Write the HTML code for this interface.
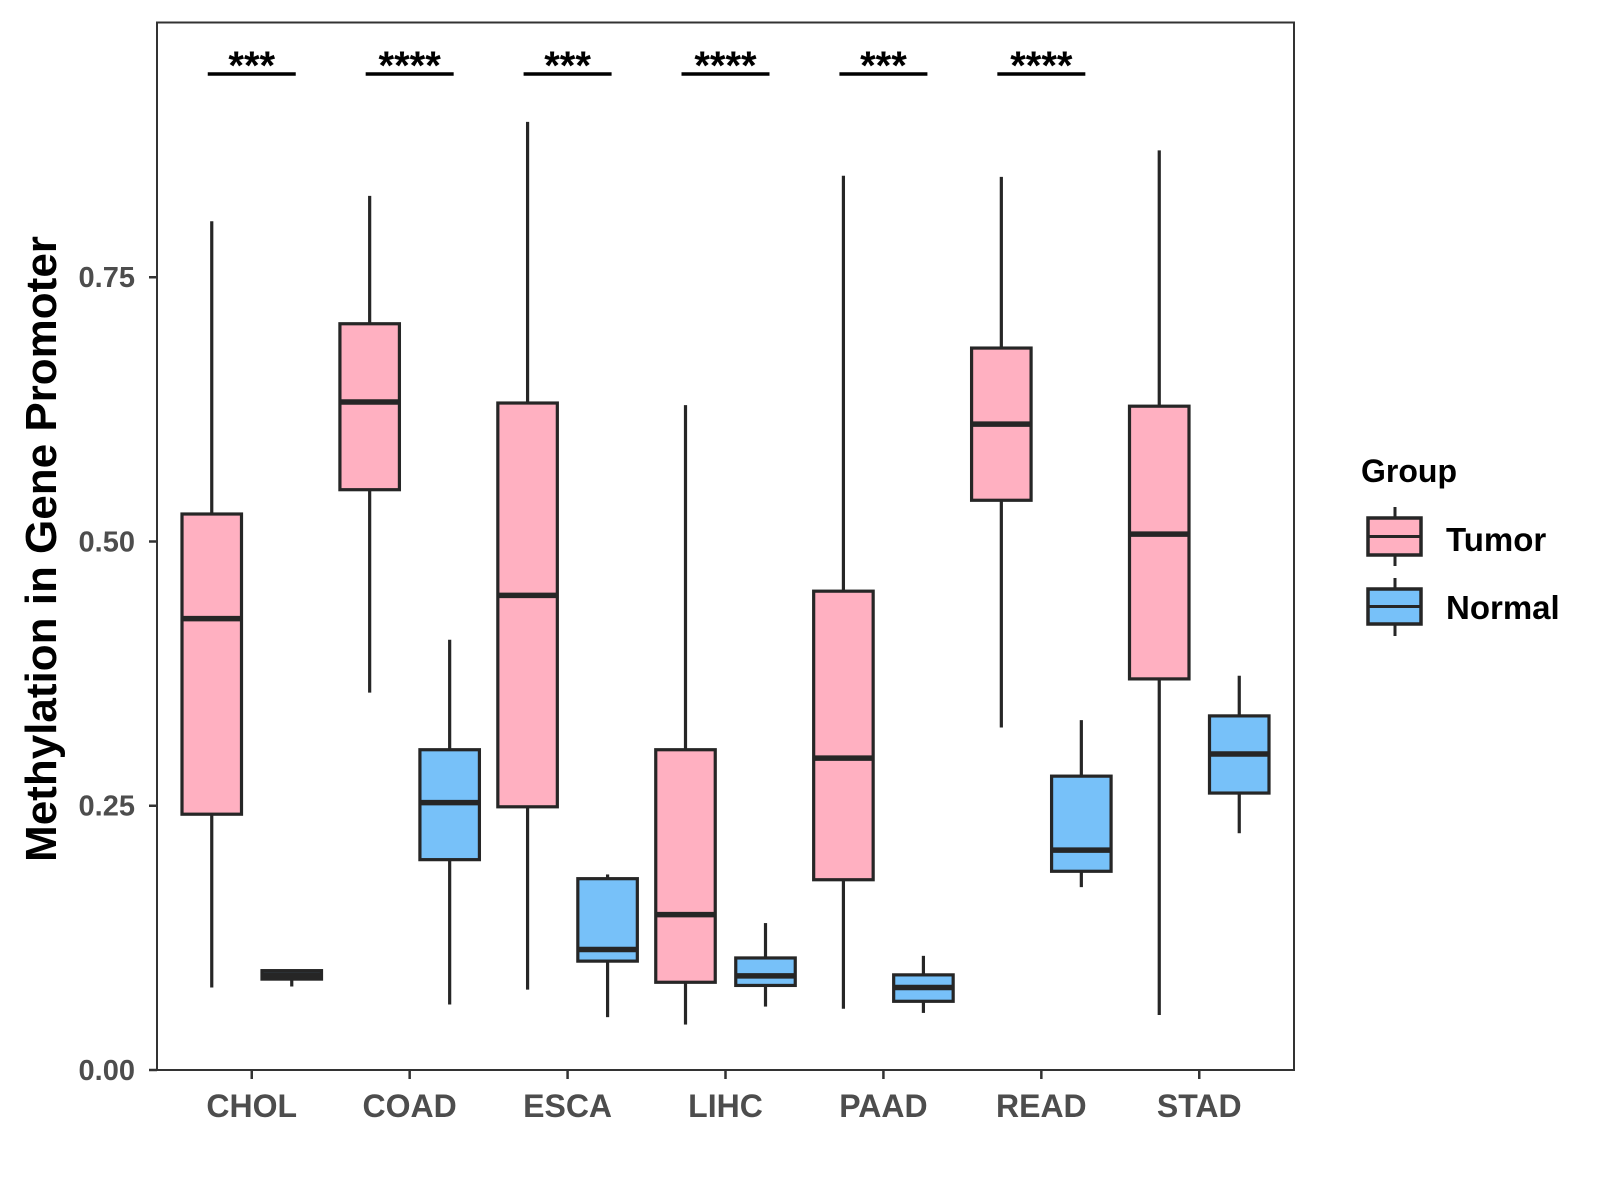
<!DOCTYPE html>
<html><head><meta charset="utf-8"><style>
html,body{margin:0;padding:0;background:#fff;}
svg{display:block;font-family:"Liberation Sans",Arial,sans-serif;}
</style></head><body>
<svg id="chart" width="1600" height="1200" viewBox="0 0 1600 1200">
<rect x="0" y="0" width="1600" height="1200" fill="#fff"/>
<g id="plot"></g>
<text x="56" y="549" transform="rotate(-90 56 549)" text-anchor="middle" font-size="44" font-weight="bold" fill="#000">Methylation in Gene Promoter</text>
<g>
<text x="1361" y="482" font-size="32" font-weight="bold" fill="#000">Group</text>
<g>
<line x1="1395" y1="507" x2="1395" y2="566" stroke="#262626" stroke-width="3"/>
<rect x="1368" y="518" width="53" height="37" fill="#FFB0C1" stroke="#262626" stroke-width="3.5"/>
<line x1="1368" y1="536.5" x2="1421" y2="536.5" stroke="#262626" stroke-width="3"/>
<text x="1446" y="551" font-size="33" font-weight="bold" fill="#000">Tumor</text>
</g>
<g>
<line x1="1395" y1="578" x2="1395" y2="636" stroke="#262626" stroke-width="3"/>
<rect x="1368" y="589" width="53" height="35" fill="#77C1F9" stroke="#262626" stroke-width="3.5"/>
<line x1="1368" y1="606.5" x2="1421" y2="606.5" stroke="#262626" stroke-width="3"/>
<text x="1446" y="619" font-size="33" font-weight="bold" fill="#000">Normal</text>
</g>
</g>
</svg>
<script>
const categories = ["CHOL","COAD","ESCA","LIHC","PAAD","READ","STAD"];
// [min, Q1, median, Q3, max]
const tumorStats = [
  [0.078,0.242,0.427,0.526,0.803],
  [0.357,0.549,0.632,0.706,0.827],
  [0.076,0.249,0.449,0.631,0.897],
  [0.043,0.083,0.147,0.303,0.629],
  [0.058,0.180,0.295,0.453,0.846],
  [0.324,0.539,0.611,0.683,0.845],
  [0.052,0.370,0.507,0.628,0.870]
];
const normalStats = [
  [0.079,0.086,0.090,0.094,0.094],
  [0.062,0.199,0.253,0.303,0.407],
  [0.050,0.103,0.114,0.181,0.185],
  [0.060,0.080,0.089,0.106,0.139],
  [0.054,0.065,0.078,0.090,0.108],
  [0.173,0.188,0.208,0.278,0.331],
  [0.224,0.262,0.299,0.335,0.373]
];
const sigLabels = ["***","****","***","****","***","****",""];
const yTicks = [0,0.25,0.5,0.75];
const yTickLabels = ["0.00","0.25","0.50","0.75"];

const NS="http://www.w3.org/2000/svg";
const plot=document.getElementById('plot');
const L=157,R=1294,T=22.5,B=1070;
const yMin=0,yMax=0.991;
const y=v=>B-(v-yMin)/(yMax-yMin)*(B-T);
const step=(R-L)/(categories.length-1+1.2);
const x=i=>L+step*(i+0.6);
const dodge=40, bw=59.5;
function mk(tag,attrs,parent){const e=document.createElementNS(NS,tag);for(const k in attrs)e.setAttribute(k,attrs[k]);(parent||plot).appendChild(e);return e;}

mk('rect',{x:L,y:T,width:R-L,height:B-T,fill:'none',stroke:'#333',"stroke-width":2});

yTicks.forEach((t,i)=>{
  const g=mk('g',{});
  
  
  mk('line',{x1:L-8,x2:L,y1:y(t),y2:y(t),stroke:'#333',"stroke-width":2.5},g);
  const tx=mk('text',{x:L-22,y:y(t)+10,"text-anchor":"end","font-size":29,"font-weight":"bold",fill:'#4d4d4d'},g);
  tx.textContent=yTickLabels[i];
});

categories.forEach((c,i)=>{
  const g=mk('g',{});
  
  
  mk('line',{x1:x(i),x2:x(i),y1:B,y2:B+9,stroke:'#333',"stroke-width":2.5},g);
  const tx=mk('text',{x:x(i),y:B+47,"text-anchor":"middle","font-size":32,"font-weight":"bold",fill:'#4d4d4d'},g);
  tx.textContent=c;
});

function box(s,cx,fill,name){
  const g=mk('g',{});
  
  
  mk('line',{x1:cx,x2:cx,y1:y(s[0]),y2:y(s[1]),stroke:'#262626',"stroke-width":3.2},g);
  mk('line',{x1:cx,x2:cx,y1:y(s[3]),y2:y(s[4]),stroke:'#262626',"stroke-width":3.2},g);
  mk('rect',{x:cx-bw/2,y:y(s[3]),width:bw,height:Math.max(1,y(s[1])-y(s[3])),fill:fill,stroke:'#262626',"stroke-width":3.2},g);
  mk('line',{x1:cx-bw/2,x2:cx+bw/2,y1:y(s[2]),y2:y(s[2]),stroke:'#262626',"stroke-width":5.5},g);
}
categories.forEach((c,i)=>{
  box(tumorStats[i],x(i)-dodge,'#FFB0C1','box-tumor-'+c.toLowerCase());
  box(normalStats[i],x(i)+dodge,'#77C1F9','box-normal-'+c.toLowerCase());
  if(sigLabels[i]){
    const g=mk('g',{});
    
    
    mk('line',{x1:x(i)-44,x2:x(i)+44,y1:74,y2:74,stroke:'#000',"stroke-width":3.5},g);
    const tx=mk('text',{x:x(i),y:79,"text-anchor":"middle","font-size":40,"font-weight":"bold",fill:'#000'},g);
    tx.textContent=sigLabels[i];
  }
});
</script>
</body></html>
